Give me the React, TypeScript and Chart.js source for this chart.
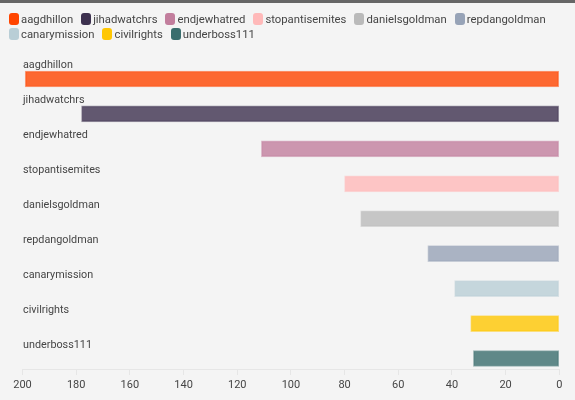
import React, { useEffect, useRef } from "react";
import { Chart, registerables } from "chart.js";

Chart.register(...registerables);

const users = [
  "aagdhillon",
  "jihadwatchrs",
  "endjewhatred",
  "stopantisemites",
  "danielsgoldman",
  "repdangoldman",
  "canarymission",
  "civilrights",
  "underboss111",
];
const counts = [199, 178, 111, 80, 74, 49, 39, 33, 32];
const colors = [
  "#ff4500",
  "#3d314f",
  "#c27e9d",
  "#ffb9b9",
  "#bababa",
  "#97a3b7",
  "#b9ced6",
  "#ffc703",
  "#396d6d",
];
const xMin = 0;
const xMax = 200;
const xStep = 20;

const FONT = "Roboto";
const TEXT = "#454545";

function rgba(hex: string, a: number) {
  const n = parseInt(hex.slice(1), 16);
  return `rgba(${(n >> 16) & 255},${(n >> 8) & 255},${n & 255},${a})`;
}

export default function App() {
  const ref = useRef<HTMLCanvasElement>(null);

  useEffect(() => {
    document.body.style.margin = "0";
    document.body.style.background = "#f4f4f4";
    const chart = new Chart(ref.current!, {
      type: "bar",
      data: {
        datasets: users.map((u, i) => ({
          label: u,
          data: [{ x: counts[i], y: i }],
          backgroundColor: rgba(colors[i], 0.8),
          borderColor: rgba(colors[i], 0.5),
          borderWidth: 1,
          borderSkipped: false,
          barThickness: 16,
          stack: "users",
        })),
      },
      options: {
        indexAxis: "y",
        animation: false,
        responsive: false,
        layout: { padding: { top: 58.5, left: 21.5, right: 15.7, bottom: 4.8 } },
        plugins: {
          legend: { display: false },
          tooltip: { enabled: false },
        },
        scales: {
          x: {
            type: "linear",
            min: xMin,
            max: xMax,
            reverse: true,
            stacked: false,
            ticks: {
              stepSize: xStep,
              color: TEXT,
              padding: 3.5,
              font: { family: FONT, size: 11 },
            },
            grid: { drawOnChartArea: false, tickLength: 6, color: "#e6e6e6" },
            border: { color: "#e6e6e6" },
          },
          y: {
            type: "linear",
            min: -0.5,
            max: 8.3,
            reverse: true,
            offset: false,
            grid: { display: false, drawTicks: false, tickLength: 0 },
            border: { display: false },
            afterBuildTicks: (scale: any) => {
              scale.ticks = users.map((_, i) => ({ value: i }));
            },
            ticks: {
              mirror: true,
              padding: 0.5,
              labelOffset: -13.5,
              color: TEXT,
              font: { family: FONT, size: 10.8 },
              callback: (_v: any, idx: number) => users[idx],
            },
          },
        },
      },
    } as any);
    return () => chart.destroy();
  }, []);

  return (
    <div
      style={{
        width: 575,
        height: 400,
        boxSizing: "border-box",
        borderTop: "3px solid #666666",
        background: "#f4f4f4",
        position: "relative",
        overflow: "hidden",
      }}
    >
      <div
        style={{
          position: "absolute",
          top: 8.5,
          left: 9,
          right: 2,
          display: "flex",
          flexWrap: "wrap",
          columnGap: 8,
          lineHeight: "15px",
          fontFamily: FONT,
          fontSize: 11.3,
          color: TEXT,
        }}
      >
        {users.map((u, i) => (
          <span key={u} style={{ display: "inline-flex", alignItems: "center" }}>
            <span
              style={{
                display: "inline-block",
                width: 10,
                height: 12,
                borderRadius: 3,
                background: colors[i],
                marginRight: 2,
              }}
            />
            {u}
          </span>
        ))}
      </div>
      <canvas ref={ref} width={575} height={397} style={{ display: "block" }} />
    </div>
  );
}
